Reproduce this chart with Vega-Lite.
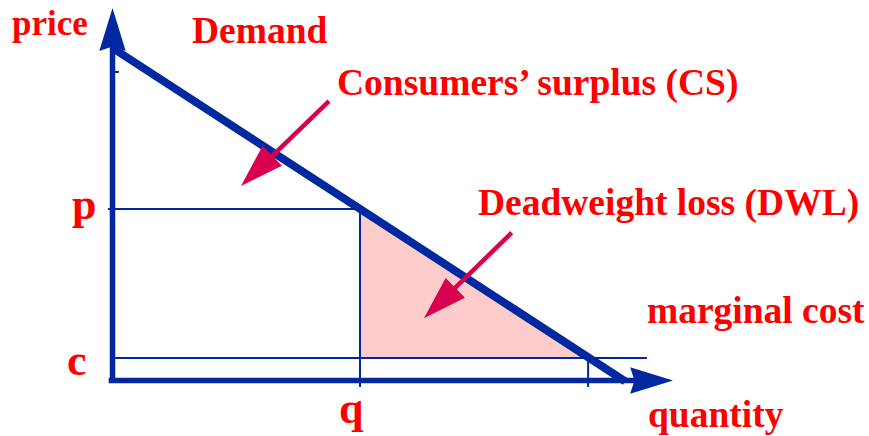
{
  "$schema": "https://vega.github.io/schema/vega-lite/v6.json",
  "width": 869,
  "height": 436,
  "padding": 0,
  "autosize": {"type": "none"},
  "config": {"view": {"stroke": null}},
  "datasets": {
    "dwl": [
      {"Q": 9.68, "P": 10.32, "P2": 1.35},
      {"Q": 18.65, "P": 1.35, "P2": 1.35}
    ],
    "thin": [
      {"Q": -0.18, "P": 10.32, "Q2": 9.68, "P2": 10.32},
      {"Q": 9.68, "P": 10.32, "Q2": 9.68, "P2": -0.39},
      {"Q": 0, "P": 1.35, "Q2": 20.9, "P2": 1.35},
      {"Q": 18.6, "P": 1.35, "Q2": 18.6, "P2": -0.39},
      {"Q": 0, "P": 18.56, "Q2": 0.25, "P2": 18.56}
    ],
    "axes": [
      {"Q": 0, "P": -0.15, "Q2": 0, "P2": 20.6},
      {"Q": -0.15, "P": 0, "Q2": 20.6, "P2": 0}
    ],
    "demand": [
      {"Q": 0, "P": 20, "Q2": 20.05, "P2": -0.05}
    ],
    "yhead": [{"Q": 0, "P": 21.08}],
    "xhead": [{"Q": 21.06, "P": 0}],
    "pointers": [
      {"Q": 8.467, "P": 16.81, "Q2": 6.08, "P2": 13.26},
      {"Q": 15.61, "P": 8.89, "Q2": 13.3, "P2": 5.42}
    ],
    "pointerHeads": [
      {"Q": 5.643, "P": 12.62},
      {"Q": 12.8, "P": 4.67}
    ],
    "labels": [
      {"label": "Demand", "Q": 3.11, "P": 20.3},
      {"label": "Consumers’ surplus (CS)", "Q": 8.78, "P": 17.17},
      {"label": "Deadweight loss (DWL)", "Q": 14.29, "P": 9.95},
      {"label": "marginal cost", "Q": 20.9, "P": 3.46},
      {"label": "quantity", "Q": 20.94, "P": -2.8}
    ],
    "priceLabel": [
      {"label": "price", "Q": -3.93, "P": 20.78}
    ],
    "bigLabels": [
      {"label": "p", "Q": -1.58, "P": 9.71},
      {"label": "c", "Q": -1.78, "P": 0.33},
      {"label": "q", "Q": 8.86, "P": -2.56}
    ]
  },
  "layer": [
    {
      "data": {"name": "dwl"},
      "mark": {"type": "area", "color": "#ffcccc", "opacity": 1},
      "encoding": {
        "x": {"field": "Q", "type": "quantitative", "scale": {"domain": [-4.3997, 29.585], "nice": false, "zero": false}, "axis": null},
        "y": {"field": "P", "type": "quantitative", "scale": {"domain": [-3.338, 22.887], "nice": false, "zero": false}, "axis": null},
        "y2": {"field": "P2"}
      }
    },
    {
      "data": {"name": "thin"},
      "mark": {"type": "rule", "color": "#0028a0", "strokeWidth": 2},
      "encoding": {
        "x": {"field": "Q", "type": "quantitative"},
        "y": {"field": "P", "type": "quantitative"},
        "x2": {"field": "Q2"},
        "y2": {"field": "P2"}
      }
    },
    {
      "data": {"name": "axes"},
      "mark": {"type": "rule", "color": "#0028a0", "strokeWidth": 5.5},
      "encoding": {
        "x": {"field": "Q", "type": "quantitative"},
        "y": {"field": "P", "type": "quantitative"},
        "x2": {"field": "Q2"},
        "y2": {"field": "P2"}
      }
    },
    {
      "data": {"name": "demand"},
      "mark": {"type": "rule", "color": "#0028a0", "strokeWidth": 8},
      "encoding": {
        "x": {"field": "Q", "type": "quantitative"},
        "y": {"field": "P", "type": "quantitative"},
        "x2": {"field": "Q2"},
        "y2": {"field": "P2"}
      }
    },
    {
      "data": {"name": "yhead"},
      "mark": {"type": "point", "shape": "M0,-1L0.6,0.95L0,0.75L-0.6,0.95Z", "size": 1936, "filled": true, "opacity": 1, "color": "#0028a0", "angle": 0, "strokeWidth": 0},
      "encoding": {
        "x": {"field": "Q", "type": "quantitative"},
        "y": {"field": "P", "type": "quantitative"}
      }
    },
    {
      "data": {"name": "xhead"},
      "mark": {"type": "point", "shape": "M0,-1L0.6,0.95L0,0.75L-0.6,0.95Z", "size": 1936, "filled": true, "opacity": 1, "color": "#0028a0", "angle": 90, "strokeWidth": 0},
      "encoding": {
        "x": {"field": "Q", "type": "quantitative"},
        "y": {"field": "P", "type": "quantitative"}
      }
    },
    {
      "data": {"name": "pointers"},
      "mark": {"type": "rule", "color": "#d8004f", "strokeWidth": 4.5},
      "encoding": {
        "x": {"field": "Q", "type": "quantitative"},
        "y": {"field": "P", "type": "quantitative"},
        "x2": {"field": "Q2"},
        "y2": {"field": "P2"}
      }
    },
    {
      "data": {"name": "pointerHeads"},
      "mark": {"type": "point", "shape": "M0,-1L0.63,0.98L-0.63,0.98Z", "size": 1936, "filled": true, "opacity": 1, "color": "#d8004f", "angle": 226, "strokeWidth": 0},
      "encoding": {
        "x": {"field": "Q", "type": "quantitative"},
        "y": {"field": "P", "type": "quantitative"}
      }
    },
    {
      "data": {"name": "labels"},
      "mark": {"type": "text", "font": "Liberation Serif", "fontWeight": "bold", "fontSize": 37.5, "color": "#ff0000", "align": "left", "baseline": "alphabetic"},
      "encoding": {
        "x": {"field": "Q", "type": "quantitative"},
        "y": {"field": "P", "type": "quantitative"},
        "text": {"field": "label"}
      }
    },
    {
      "data": {"name": "priceLabel"},
      "mark": {"type": "text", "font": "Liberation Serif", "fontWeight": "bold", "fontSize": 35, "color": "#ff0000", "align": "left", "baseline": "alphabetic"},
      "encoding": {
        "x": {"field": "Q", "type": "quantitative"},
        "y": {"field": "P", "type": "quantitative"},
        "text": {"field": "label"}
      }
    },
    {
      "data": {"name": "bigLabels"},
      "mark": {"type": "text", "font": "Liberation Serif", "fontWeight": "bold", "fontSize": 44, "color": "#ff0000", "align": "left", "baseline": "alphabetic"},
      "encoding": {
        "x": {"field": "Q", "type": "quantitative"},
        "y": {"field": "P", "type": "quantitative"},
        "text": {"field": "label"}
      }
    }
  ]
}
